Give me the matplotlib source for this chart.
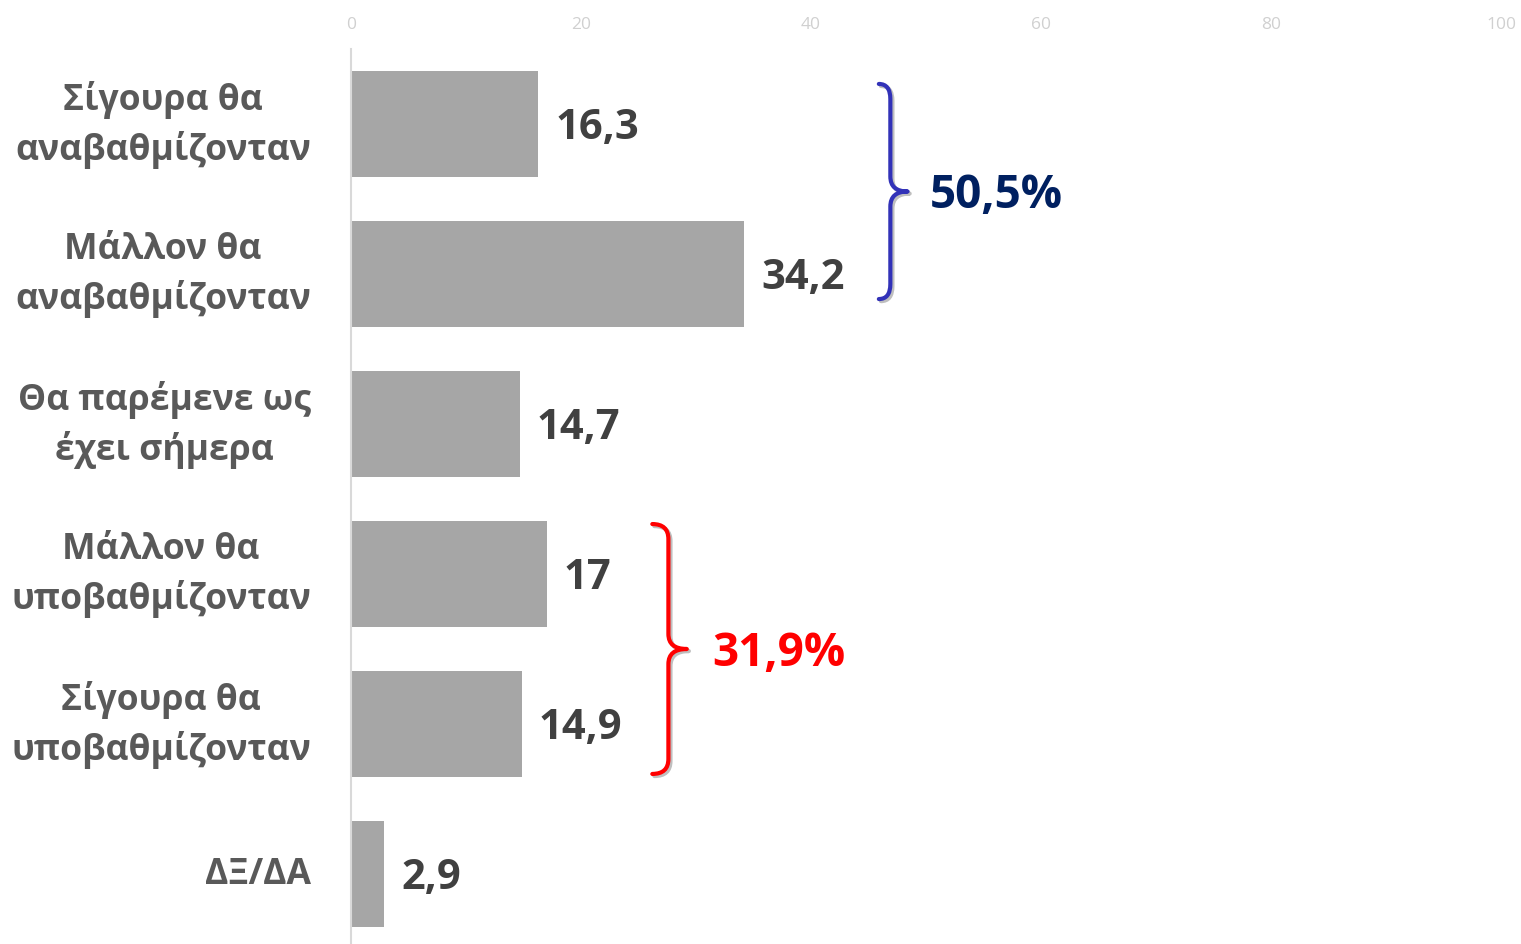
import matplotlib
matplotlib.use("Agg")
import matplotlib.pyplot as plt
from matplotlib.path import Path
from matplotlib.patches import PathPatch
import matplotlib.patheffects as pe

categories = ["Σίγουρα θα\nαναβαθμίζονταν", "Μάλλον θα\nαναβαθμίζονταν",
              "Θα παρέμενε ως\nέχει σήμερα", "Μάλλον θα\nυποβαθμίζονταν",
              "Σίγουρα θα\nυποβαθμίζονταν", "ΔΞ/ΔΑ"]
values = [16.3, 34.2, 14.7, 17, 14.9, 2.9]
value_labels = ["16,3", "34,2", "14,7", "17", "14,9", "2,9"]
xticks = [0, 20, 40, 60, 80, 100]
group_up_label = "50,5%"
group_down_label = "31,9%"

FONT = ["Open Sans", "DejaVu Sans"]

W, H = 1521, 945
fig = plt.figure(figsize=(W / 100, H / 100), dpi=100)
ax = fig.add_axes([351 / W, 0, (1501 - 351) / W, 1 - 50 / H])

ypos = list(range(len(categories)))
ax.barh(ypos, values, height=0.713, color="#A6A6A6", zorder=2)
ax.set_xlim(0, 100)
ax.set_ylim(-0.5 + 895 / 150, -0.5)

ax.xaxis.tick_top()
ax.set_xticks(xticks)
ax.set_xticklabels([str(t) for t in xticks], color="#D0D0D0", fontsize=12.5,
                   family=FONT)
ax.tick_params(axis="x", length=0, pad=12)
ax.set_yticks(ypos)
ax.set_yticklabels([])
ax.tick_params(axis="y", length=0)
for s in ["top", "right", "bottom"]:
    ax.spines[s].set_visible(False)
ax.spines["left"].set_color("#D9D9D9")
ax.spines["left"].set_linewidth(1.5)

for y, lab in zip(ypos, categories):
    ax.text(-40 / 11.5, y, lab, ha="right", va="center",
            multialignment="center", fontsize=25.6, fontweight="bold", color="#595959",
            family=FONT, linespacing=1.4)

for y, v, lab in zip(ypos, values, value_labels):
    ax.annotate(lab, (v, y + 0.025), xytext=(12, 0), textcoords="offset points",
                ha="left", va="center", fontsize=30, fontweight="bold",
                color="#404040", family=FONT)


def brace(ax, x0, xb, xtip, y0, y1, color):
    ry = 0.1
    ym = (y0 + y1) / 2
    verts = [(x0, y0), (xb, y0), (xb, y0 + ry),
             (xb, ym - ry), (xb, ym), (xtip, ym),
             (xb, ym), (xb, ym + ry),
             (xb, y1 - ry), (xb, y1), (x0, y1)]
    codes = [Path.MOVETO, Path.CURVE3, Path.CURVE3,
             Path.LINETO, Path.CURVE3, Path.CURVE3,
             Path.CURVE3, Path.CURVE3,
             Path.LINETO, Path.CURVE3, Path.CURVE3]
    p = PathPatch(Path(verts, codes), fill=False, edgecolor=color, lw=3,
                  capstyle="round", joinstyle="round", zorder=3, clip_on=False)
    p.set_path_effects([pe.SimpleLineShadow(offset=(1.5, -1.5), alpha=0.25),
                        pe.Normal()])
    ax.add_patch(p)


brace(ax, 45.9, 46.9, 48.4, -0.267, 1.167, "#3232B8")
brace(ax, 26.2, 27.6, 29.2, 2.667, 4.333, "#FF0000")

ax.text(50.3, 0.47, group_up_label, ha="left", va="center", fontsize=33,
        fontweight="bold", color="#002060", family=FONT)
ax.text(31.4, 3.52, group_down_label, ha="left", va="center", fontsize=33,
        fontweight="bold", color="#FF0000", family=FONT)

fig.savefig("out.png", dpi=100)
